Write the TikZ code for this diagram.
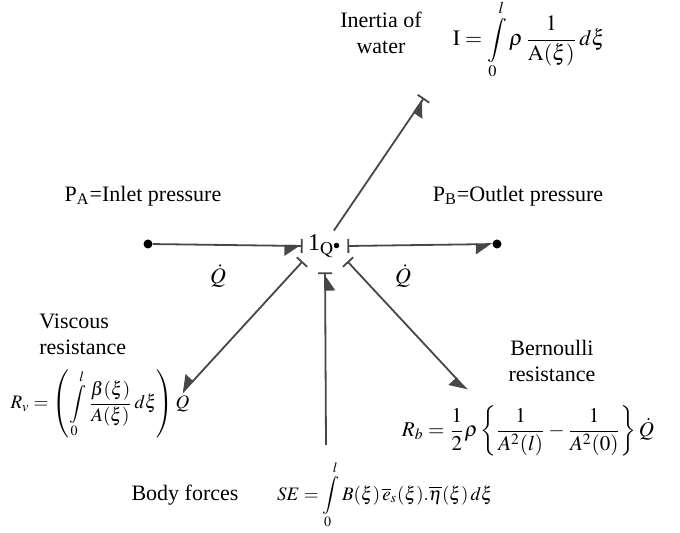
\documentclass[tikz,border=0pt]{standalone}
\usepackage{mathptmx}
\usepackage{fontspec}
\setmainfont{Liberation Serif}
\usetikzlibrary{arrows.meta}
\colorlet{bondgray}{black!72}

\begin{document}
\begin{tikzpicture}[
  x=0.5pt, y=-0.5pt,
  font=\fontsize{11}{13}\selectfont,
  bond/.style={line width=0.9pt, draw=bondgray},
  halfbar/.style={-{Triangle[right,length=7.5pt,width=10pt]Bar[width=7pt]}},
  barhalf/.style={{Bar[width=7pt]}-{Triangle[right,length=7.5pt,width=10pt]}},
  dotnode/.style={circle, fill=black, inner sep=0pt, minimum size=4.5pt},
  lbl/.style={align=center, inner sep=1pt},
  eqn/.style={inner sep=1pt},
  smalleq/.style={inner sep=1pt, font=\fontsize{9.5}{11}\selectfont}
]
\useasboundingbox (0,0) rectangle (680,533);

% junction and ends
\node[inner sep=0pt, minimum width=22pt, minimum height=15pt, font=\fontsize{12}{14}\selectfont] (one) at (325,246) {1$_{\mathrm{Q}^{\bullet}}$};
\node[dotnode] (pa) at (148,244) {};
\node[dotnode] (pb) at (497,244) {};
\coordinate (iend) at (424,98);
\coordinate (sbot) at (326,445);
\coordinate (vend) at (182,393);
\coordinate (bern) at (467,390);

% bonds
\draw[bond, halfbar] (pa) -- (one.west);
\draw[bond, barhalf] (one.east) -- (pb);
\draw[bond, halfbar] (one.60) -- (iend);
\draw[bond, halfbar, shorten >=5.5pt] (sbot) -- (one.south);
\draw[bond, barhalf] (one.south west) -- (vend);
\draw[bond, barhalf] (one.south east) -- (bern);

\node[inner sep=1pt] (qin) at (218,276) {$\dot{Q}$};
\node[inner sep=1pt] (qout) at (403,276) {$\dot{Q}$};

% labels
\node[lbl] (inertia) at (381,33) {Inertia of\\water};
\node[eqn] (ieq) at (529,40) {$\displaystyle \mathrm{I}=\int\limits_{0}^{l}\rho\,\frac{1}{\mathrm{A}(\xi)}\,d\xi$};
\node[lbl] (inlet) at (143,196) {P\textsubscript{A}=Inlet pressure};
\node[lbl] (outlet) at (518,196) {P\textsubscript{B}=Outlet pressure};
\node[lbl, align=left, anchor=west] (visc) at (37,334) {Viscous\\resistance};
\node[smalleq] (veq) at (100,404) {$\displaystyle R_{v}=\left(\int\limits_{0}^{l}\frac{\beta(\xi)}{A(\xi)}\,d\xi\right)Q$};
\node[lbl] (bernl) at (552,361) {Bernoulli\\resistance};
\node[eqn, font=\fontsize{10.5}{12}\selectfont] (beq) at (528,431) {$\displaystyle R_{b}=\frac{1}{2}\rho\left\{\frac{1}{A^{2}(l)}-\frac{1}{A^{2}(0)}\right\}\dot{Q}$};
\node[lbl] (body) at (185,495) {Body forces};
\node[smalleq] (seq) at (385,495) {$\displaystyle SE=\int\limits_{0}^{l}B(\xi)\,\overline{e}_{s}(\xi).\overline{\eta}(\xi)\,d\xi$};
\end{tikzpicture}
\end{document}
